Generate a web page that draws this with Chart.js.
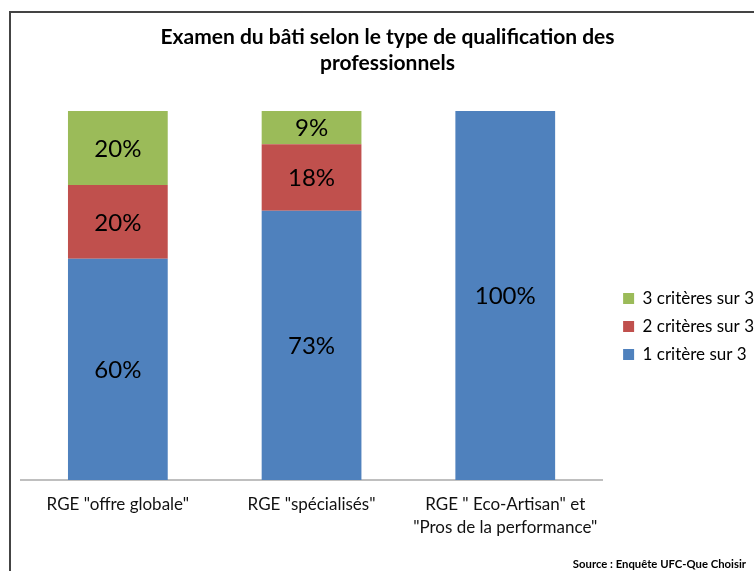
<!DOCTYPE html>
<html>
<head>
<meta charset="utf-8">
<script src="https://cdn.jsdelivr.net/npm/chart.js@4/dist/chart.umd.min.js"></script>
<style>
  html, body { margin: 0; padding: 0; background: #fff; }
  #wrap { position: relative; width: 754px; height: 571px; }
</style>
</head>
<body>
<div id="wrap"><canvas id="chart" width="754" height="571"></canvas></div>
<script>
// Data
const categories = [
    'RGE "offre globale"',
    'RGE "spécialisés"',
    ['RGE " Eco-Artisan" et', '"Pros de la performance"']
];
const seriesNames = ["1 critère sur 3", "2 critères sur 3", "3 critères sur 3"];
const oneCriterion = [60, 73, 100];
const twoCriteria = [20, 18, 0];
const threeCriteria = [20, 9, 0];
const colors = ["#4F81BD", "#C0504D", "#9BBB59"];

const FONT = "Lato, 'Open Sans', sans-serif";

// draws the percentage inside each segment
const valueLabels = {
    id: "valueLabels",
    afterDatasetsDraw(chart) {
        const ctx = chart.ctx;
        ctx.save();
        ctx.font = "24px " + FONT;
        ctx.fillStyle = "#000";
        ctx.textAlign = "center";
        ctx.textBaseline = "middle";
        chart.data.datasets.forEach(function(ds, i) {
            chart.getDatasetMeta(i).data.forEach(function(bar, j) {
                const v = ds.data[j];
                if (!v) return;
                const p = bar.getProps(["x", "y", "base"], true);
                ctx.fillText(v + "%", p.x, (p.y + p.base) / 2 + 1);
            });
        });
        ctx.restore();
    }
};

// frame around the chart (left and top edges visible)
const frame = {
    id: "frame",
    beforeDraw(chart) {
        const ctx = chart.ctx;
        ctx.save();
        ctx.fillStyle = "#444";
        ctx.fillRect(9, 11, 2, chart.height - 11);
        ctx.fillRect(9, 11, chart.width - 9, 2);
        ctx.restore();
    }
};

// push the legend a bit to the right, closer to the edge
const legendShift = {
    id: "legendShift",
    afterLayout(chart) {
        if (chart.legend) {
            chart.legend.left += 10;
            chart.legend.right += 10;
        }
    }
};

new Chart(document.getElementById("chart"), {
    type: "bar",
    data: {
        labels: categories,
        datasets: [
            { label: seriesNames[0], data: oneCriterion, backgroundColor: colors[0] },
            { label: seriesNames[1], data: twoCriteria, backgroundColor: colors[1] },
            { label: seriesNames[2], data: threeCriteria, backgroundColor: colors[2] }
        ]
    },
    options: {
        responsive: false,
        animation: false,
        layout: { padding: { left: 21, right: 0, top: 0, bottom: 0 } },
        datasets: {
            bar: { categoryPercentage: 1, barPercentage: 0.515, borderWidth: 0 }
        },
        scales: {
            x: {
                stacked: true,
                grid: { display: false, drawTicks: false },
                border: { display: true, color: "#BFBFBF", width: 2 },
                ticks: {
                    color: "#111",
                    padding: 13,
                    maxRotation: 0,
                    autoSkip: false,
                    font: { family: FONT, size: 17, lineHeight: 1.35 }
                }
            },
            y: {
                stacked: true,
                display: false,
                min: 0,
                max: 100
            }
        },
        plugins: {
            title: {
                display: true,
                text: ["Examen du bâti selon le type de qualification des", "professionnels"],
                color: "#000",
                font: { family: FONT, size: 21, weight: "bold", lineHeight: 1.24 },
                padding: { top: 24, bottom: 35 }
            },
            subtitle: {
                display: true,
                position: "bottom",
                align: "end",
                text: "Source : Enquête UFC-Que Choisir\u00a0\u00a0\u00a0",
                color: "#000",
                font: { family: FONT, size: 11.3, weight: "bold", lineHeight: 1.15 },
                padding: { top: 6, bottom: 0 }
            },
            legend: {
                position: "right",
                reverse: true,
                title: {
                    display: true,
                    text: " ",
                    font: { size: 10, lineHeight: 1 },
                    padding: { top: 72, bottom: 0 }
                },
                labels: {
                    color: "#000",
                    boxWidth: 11,
                    boxHeight: 11,
                    padding: 11,
                    font: { family: FONT, size: 17 }
                }
            },
            tooltip: { enabled: false }
        }
    },
    plugins: [valueLabels, frame, legendShift]
});
</script>
</body>
</html>
